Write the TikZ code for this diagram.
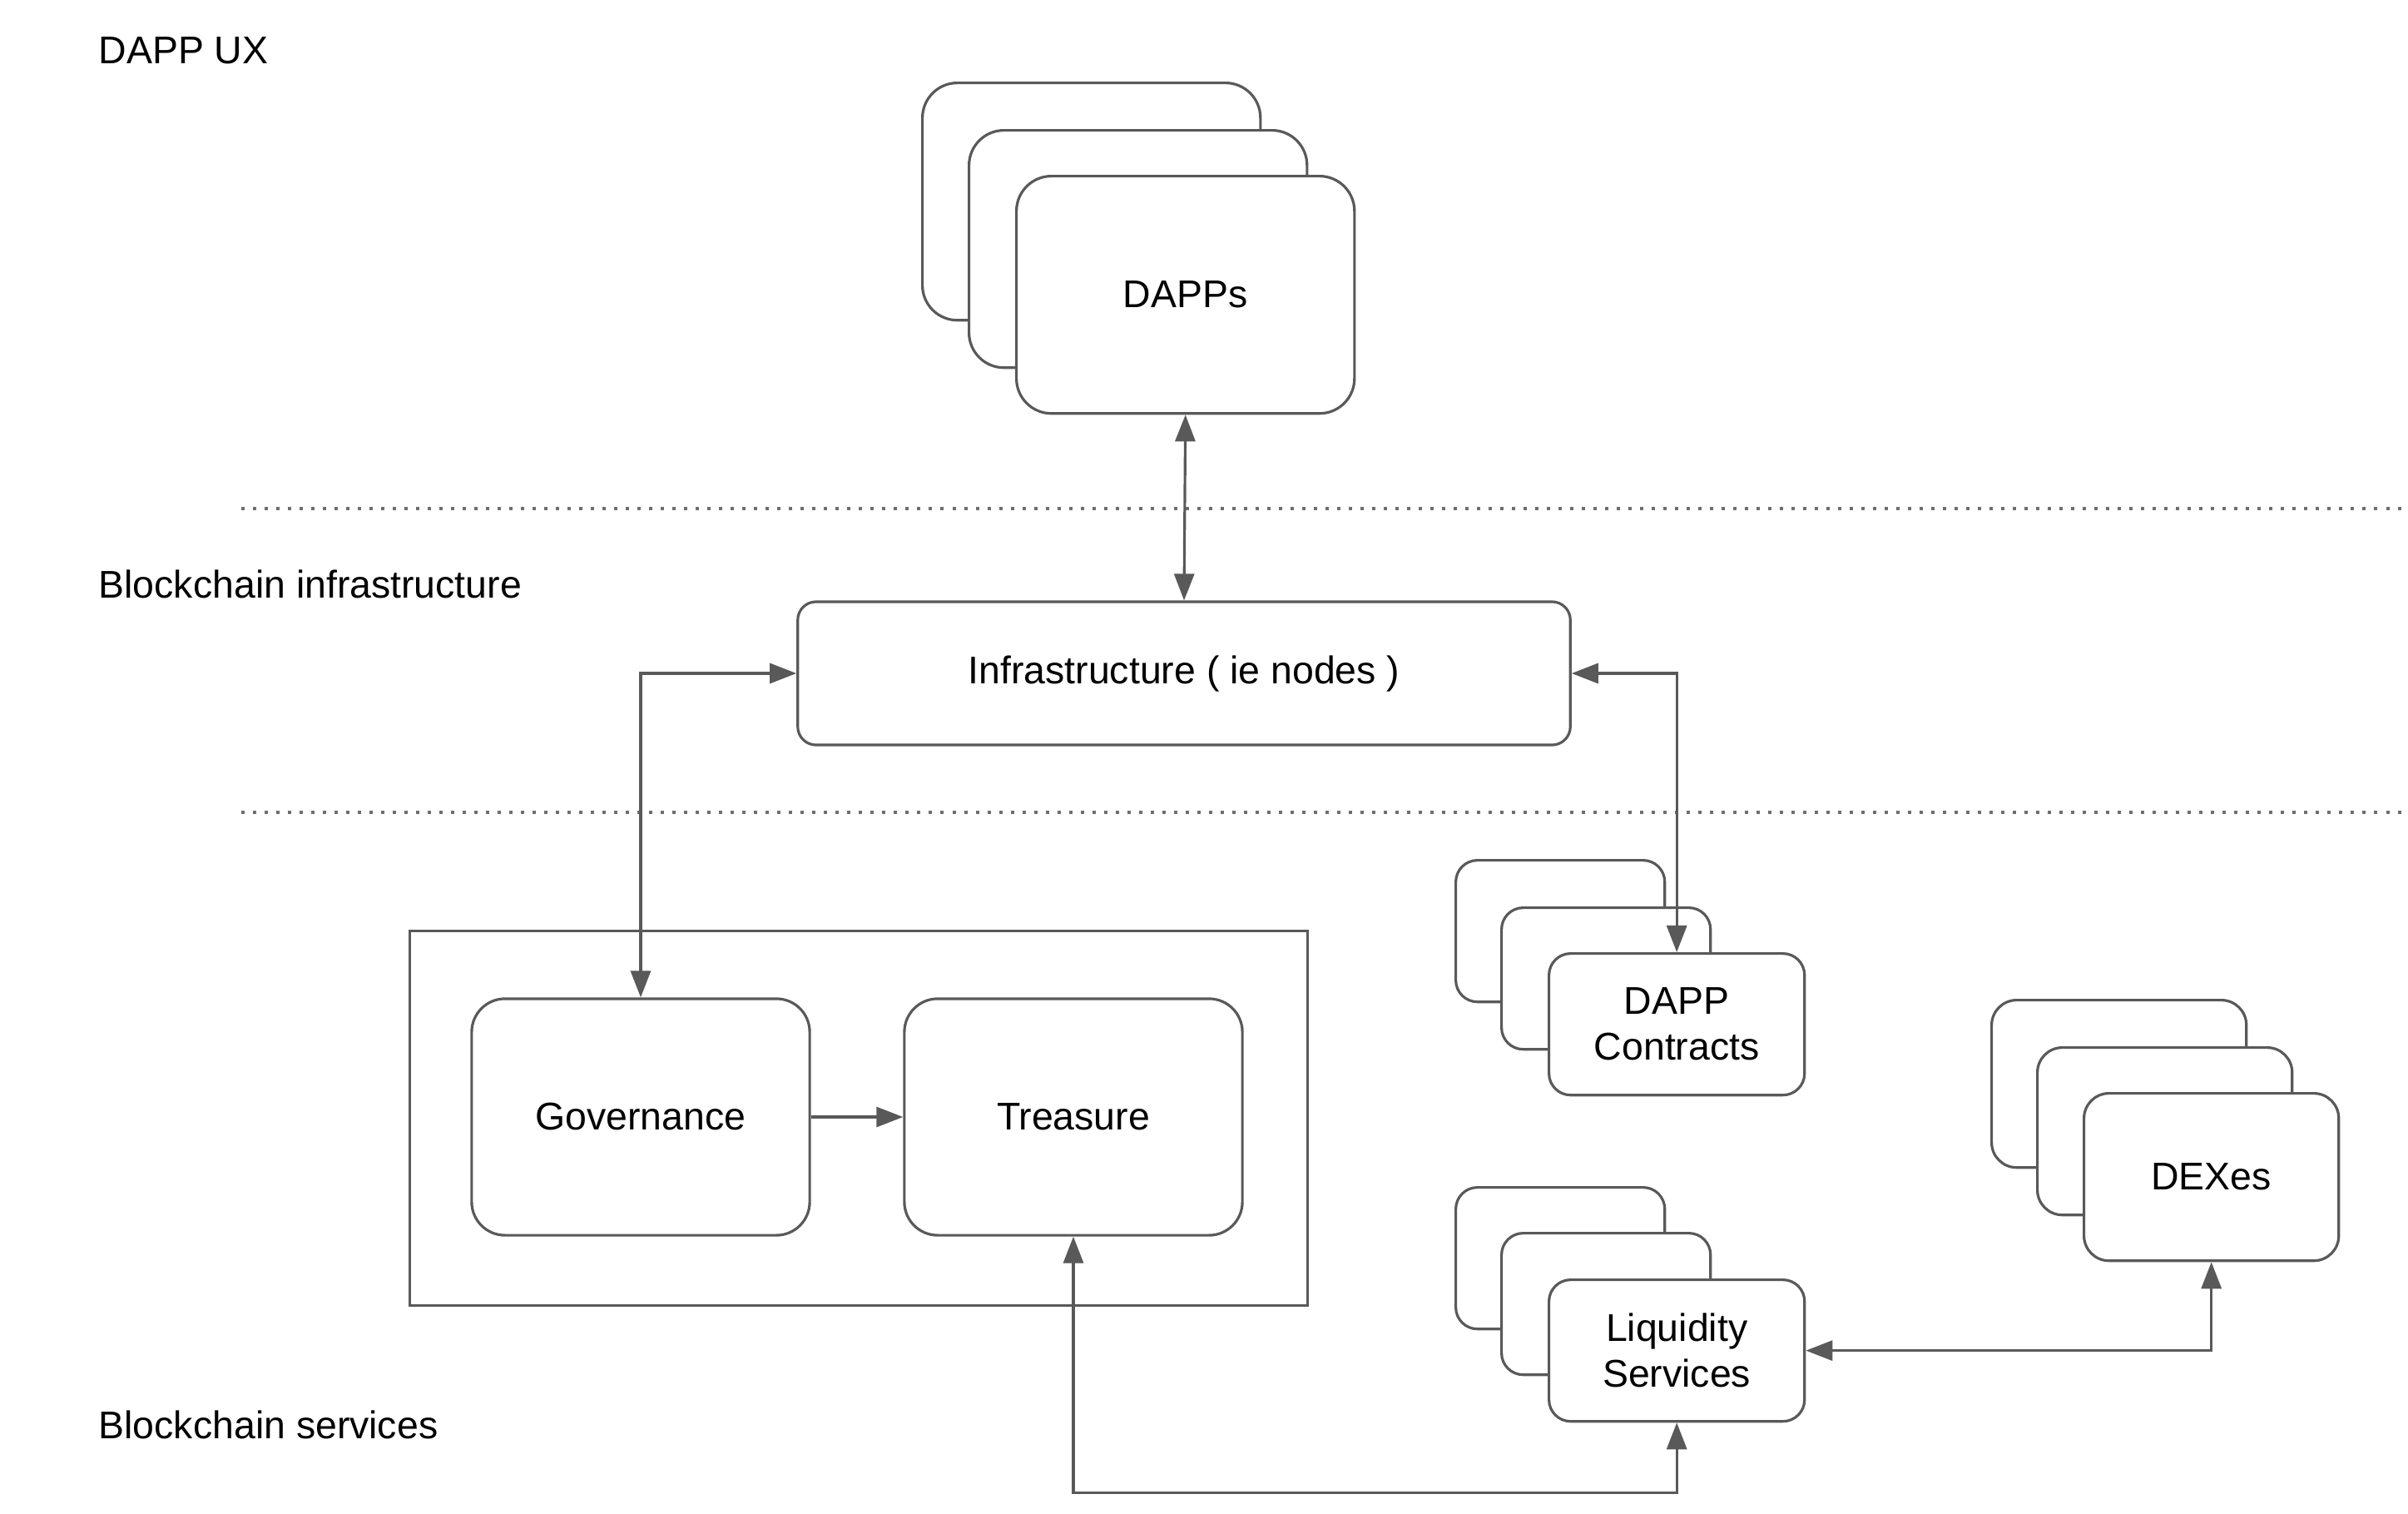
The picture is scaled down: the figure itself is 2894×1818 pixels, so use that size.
\documentclass[tikz,border=0pt]{standalone}
\usepackage{fontspec}
\setmainfont{Liberation Sans}
\usetikzlibrary{arrows.meta}
\definecolor{linegray}{HTML}{595959}
\definecolor{dotgray}{HTML}{6E6E6E}

\tikzset{
  card/.style={draw=linegray, line width=0.9pt, fill=white, rounded corners=#1, inner sep=0pt, align=center},
  card/.default=0.4cm,
  layer/.style={anchor=base west, inner sep=0pt},
  divider/.style={draw=dotgray, line width=0.04cm, dash pattern=on 0.04cm off 0.1cm},
  link/.style={draw=linegray, line width=0.9pt}
}

\begin{document}
\begin{tikzpicture}[x=0.01cm, y=-0.01cm, font=\fontsize{13.2}{15.6}\selectfont, >={Triangle[length=0.32cm,width=0.24cm]}]
\useasboundingbox (0,0) rectangle (2894,1818);

% layer titles
\node[layer] (uxlabel) at (118,76) {DAPP UX};
\node[layer] (infralabel) at (118,718) {Blockchain infrastructure};
\node[layer] (serviceslabel) at (118,1728) {Blockchain services};

\draw[divider] (290,611) -- (2894,611);
\draw[divider] (290,976) -- (2894,976);

% dapps
\node[card=0.42cm, minimum width=4.06cm, minimum height=2.85cm, anchor=north west] (dappsA) at (1107,98) {};
\node[card=0.42cm, minimum width=4.06cm, minimum height=2.85cm, anchor=north west] (dappsB) at (1163,155) {};
\node[card=0.42cm, minimum width=4.06cm, minimum height=2.85cm, anchor=north west] (dapps) at (1220,210) {DAPPs};

% infrastructure
\node[card=0.22cm, minimum width=9.28cm, minimum height=1.72cm] (infra) at (1423,809) {Infrastructure ( ie nodes )};

% governance + treasure
\node[draw=linegray, line width=0.9pt, minimum width=10.78cm, minimum height=4.5cm, anchor=north west] (core) at (491,1117) {};
\node[card, minimum width=4.06cm, minimum height=2.84cm] (gov) at (770,1342) {Governance};
\node[card, minimum width=4.06cm, minimum height=2.84cm] (treasure) at (1290,1342) {Treasure};

% dapp contracts
\node[card=0.26cm, minimum width=2.51cm, minimum height=1.7cm, anchor=north west] (contractsA) at (1748,1032) {};
\node[card=0.26cm, minimum width=2.51cm, minimum height=1.7cm, anchor=north west] (contractsB) at (1803,1089) {};
\node[card=0.26cm, minimum width=3.07cm, minimum height=1.7cm, anchor=north west] (contracts) at (1860,1144) {DAPP\\Contracts};

% liquidity services
\node[card=0.26cm, minimum width=2.51cm, minimum height=1.7cm, anchor=north west] (liquidityA) at (1748,1425) {};
\node[card=0.26cm, minimum width=2.51cm, minimum height=1.7cm, anchor=north west] (liquidityB) at (1803,1480) {};
\node[card=0.26cm, minimum width=3.07cm, minimum height=1.7cm, anchor=north west] (liquidity) at (1860,1536) {Liquidity\\Services};

% dexes
\node[card=0.3cm, minimum width=3.06cm, minimum height=2.01cm, anchor=north west] (dexesA) at (2392,1200) {};
\node[card=0.3cm, minimum width=3.06cm, minimum height=2.01cm, anchor=north west] (dexesB) at (2447,1257) {};
\node[card=0.3cm, minimum width=3.06cm, minimum height=2.01cm, anchor=north west] (dexes) at (2503,1312) {DEXes};

% connectors
\draw[link, <->] (dapps.south) -- (infra.north);
\draw[link, <->] (gov.north) |- (infra.west);
\draw[link, <->] (infra.east) -| (contracts.north);
\draw[link, ->] (gov.east) -- (treasure.west);
\draw[link, <->] (treasure.south) -- ++(0,308) -| (liquidity.south);
\draw[link, <->] (liquidity.east) -| (dexes.south);
\end{tikzpicture}
\end{document}
